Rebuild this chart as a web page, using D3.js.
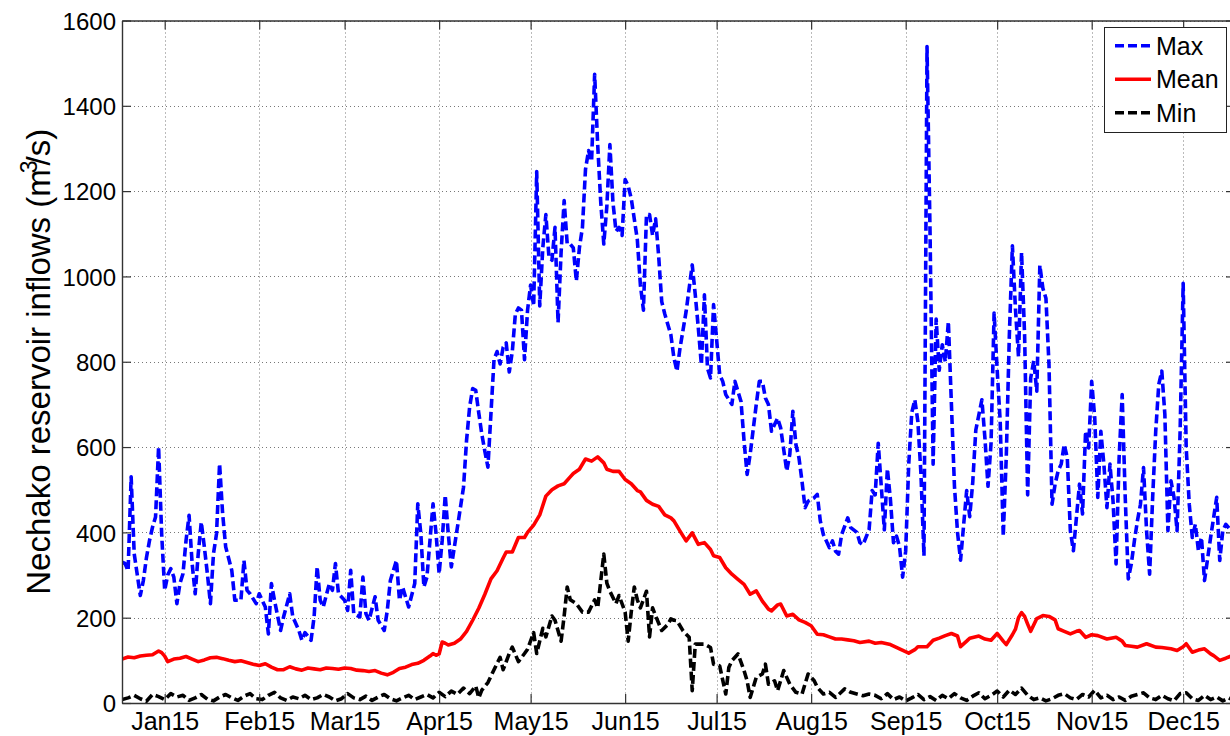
<!DOCTYPE html>
<html>
<head>
<meta charset="utf-8">
<script src="https://cdn.jsdelivr.net/npm/d3@7"></script>
<style>
  body { margin: 0; background: #ffffff; }
  svg { display: block; }
  text { font-family: "Liberation Sans", Arial, Helvetica, sans-serif; fill: #000; }
</style>
</head>
<body>
<svg id="chart" width="1230" height="736"></svg>
<script>
// Daily Nechako reservoir inflow envelope (m3/s), by day of year.
const maxDay = [1,2,3,4,5,7,8,9,10,11,12,13,14,15,16,17,18,19,20,21,22,23,24,25,26,27,28,29,30,31,32,33,34,35,37,38,40,41,42,43,45,46,48,49,50,51,53,54,56,57,59,60,61,63,64,65,66,67,69,70,71,72,74,75,76,77,79,80,81,82,84,85,87,88,89,91,92,93,95,97,98,99,100,101,103,104,105,106,107,108,109,110,111,113,114,115,116,117,118,119,120,121,122,123,124,125,126,127,128,129,130,131,132,133,134,135,136,137,138,139,140,141,142,143,144,145,146,147,148,149,150,151,152,153,154,155,156,157,158,159,160,161,162,163,164,165,166,167,168,170,171,172,173,174,175,176,177,178,179,181,182,183,184,186,188,189,190,191,192,193,194,195,197,198,199,201,202,204,205,206,207,209,210,211,212,213,214,216,217,219,220,221,222,223,224,225,226,228,229,230,231,233,234,235,236,237,239,240,242,243,244,246,247,248,249,250,251,252,253,254,255,256,257,258,259,260,261,262,263,264,265,266,267,268,269,270,271,272,273,274,275,276,278,279,280,281,283,284,285,286,287,288,289,290,291,292,293,294,295,296,297,298,299,300,301,302,303,304,305,306,307,308,309,310,311,312,313,314,315,316,317,318,319,320,321,322,323,324,325,326,327,328,329,330,331,332,333,334,335,336,337,338,339,340,341,342,343,344,345,346,347,348,349,350,351,352,353,354,355,356,358,359,360,361,362,363,364,365];
const maxFlow = [330,327,310,530,350,252,287,340,380,412,436,600,397,264,300,315,295,233,280,303,381,440,327,256,350,424,366,303,233,350,397,561,444,366,311,241,241,334,264,256,233,256,225,162,280,241,170,202,256,202,170,147,165,147,202,319,241,225,280,264,327,256,241,217,311,209,202,295,209,194,249,194,170,217,287,334,241,272,225,280,467,397,272,295,467,397,303,381,487,397,319,366,412,506,616,694,737,733,680,630,590,553,679,805,824,795,834,844,776,824,912,926,921,805,921,980,931,1246,931,1067,1145,1047,1038,1115,892,1057,1178,1076,1076,1067,989,1067,1115,1251,1295,1270,1474,1309,1174,1076,1164,1309,1174,1106,1115,1096,1227,1212,1183,1086,980,921,1145,1145,1096,1135,1047,941,912,863,809,778,832,918,1027,957,879,793,957,785,762,934,770,754,723,700,754,707,614,536,583,700,754,754,715,700,637,668,645,544,583,684,606,575,520,458,473,481,489,427,395,364,380,356,349,395,434,411,400,376,371,406,498,488,609,508,406,549,477,376,391,366,295,356,559,681,711,660,538,345,1539,1100,560,900,780,840,800,894,700,508,400,335,498,437,518,640,711,620,508,609,914,782,660,391,579,863,1072,924,812,1056,863,488,762,802,731,1026,972,949,793,466,513,544,560,606,575,404,357,435,513,443,637,598,754,669,482,637,560,458,560,474,326,575,723,482,291,326,380,427,466,552,404,302,482,637,747,778,676,404,521,482,404,637,984,598,466,388,419,357,388,287,388,435,482,334,404,419,410];

const meanDay = [1,3,5,7,9,11,13,14,15,16,18,20,22,24,26,28,30,32,34,36,38,40,42,44,46,48,50,52,54,56,58,60,62,64,66,68,70,72,74,76,78,80,82,84,86,88,90,92,94,96,98,100,102,103,104,105,106,107,108,110,112,114,116,118,120,122,124,126,127,129,131,133,134,136,138,140,142,144,146,148,149,151,153,155,157,158,159,160,162,164,166,168,170,171,173,175,177,179,181,182,184,186,188,190,192,194,195,197,199,201,203,205,207,209,211,213,214,216,217,219,221,223,225,227,229,231,233,235,237,239,241,243,246,248,250,253,256,259,261,262,265,267,269,271,273,275,276,278,279,282,284,286,288,290,291,293,294,295,296,297,298,299,301,303,305,307,308,310,312,314,315,317,319,321,324,327,329,330,332,334,337,340,342,345,347,349,350,352,354,356,358,359,361,363,365];
const meanFlow = [103,108,106,110,112,113,122,118,110,97,103,105,109,103,97,101,106,107,104,100,97,99,95,91,88,92,84,78,78,85,80,77,82,80,78,82,81,79,82,81,77,76,74,76,70,66,72,81,84,90,93,100,110,116,112,115,143,140,136,140,150,168,194,222,255,291,310,340,354,354,388,388,400,417,441,485,500,509,514,530,538,548,572,567,577,570,563,548,543,543,524,514,498,495,475,466,461,441,434,427,403,380,399,372,376,360,345,341,317,302,290,278,255,263,239,220,216,230,232,204,208,195,189,181,161,160,155,150,150,148,146,142,145,140,142,137,127,117,125,132,132,147,152,158,163,157,132,145,152,157,150,147,163,145,137,160,173,200,212,203,185,168,198,205,203,195,174,168,162,168,170,154,160,158,150,154,145,135,133,131,139,131,130,127,123,132,139,119,124,127,115,111,100,105,111];

const minDay = [1,3,5,7,9,11,13,15,17,19,21,23,25,27,29,31,33,35,37,39,41,43,45,47,49,51,53,55,57,59,61,63,65,67,69,71,73,75,77,79,81,83,85,87,89,91,93,95,97,99,101,103,105,107,109,111,113,115,117,118,119,121,123,125,126,128,129,131,133,134,136,137,139,140,142,143,145,146,147,148,150,152,154,156,157,159,160,161,163,164,166,167,168,169,170,171,173,174,175,176,178,180,181,182,183,185,187,188,189,192,194,195,197,199,200,201,203,205,206,207,209,211,212,213,215,216,218,220,222,224,226,228,229,231,233,235,238,240,242,244,246,248,250,252,254,256,258,260,262,264,266,268,270,272,274,276,278,280,282,284,286,288,290,292,294,296,298,300,302,304,306,308,310,312,314,316,318,320,322,324,326,328,330,332,334,336,338,340,342,344,346,348,350,352,354,356,358,360,362,364,365];
const minFlow = [8,12,18,10,4,20,15,8,22,14,18,6,12,20,9,5,14,20,12,6,16,22,10,8,18,25,12,6,14,10,18,8,12,20,14,5,10,22,12,8,16,6,14,20,10,5,12,18,8,14,20,12,25,15,28,20,35,22,40,12,30,48,78,107,78,116,131,97,116,126,165,116,175,155,204,194,145,204,272,242,233,213,213,242,223,349,281,262,233,252,213,145,213,272,242,223,262,155,223,204,170,184,197,194,193,169,154,29,138,138,130,91,87,21,83,99,115,76,52,13,60,68,91,44,52,29,76,44,25,21,68,52,37,21,25,13,33,25,21,17,21,18,10,22,8,14,5,12,20,8,15,6,18,10,22,12,6,16,24,10,18,28,14,30,20,35,18,8,12,5,10,18,22,12,8,20,14,30,12,18,8,14,6,16,20,24,12,8,18,10,5,22,24,10,6,18,8,14,5,12,8];

// Axis ticks: mid-month dates and flow levels
const monthTickDays = [15, 46, 74, 105, 135, 166, 196, 227, 258, 288, 319, 349];
const monthTickLabels = ["Jan15", "Feb15", "Mar15", "Apr15", "May15", "Jun15", "Jul15", "Aug15", "Sep15", "Oct15", "Nov15", "Dec15"];
const flowTicks = [0, 200, 400, 600, 800, 1000, 1200, 1400, 1600];

const seriesNames = ["Max", "Mean", "Min"];

const plot = { left: 122, right: 1235, top: 20.5, bottom: 703 };

const svg = d3.select("#chart");

const x = d3.scaleLinear().domain([1, 366]).range([plot.left, plot.right]);
const y = d3.scaleLinear().domain([0, 1600]).range([plot.bottom, plot.top]);

// Dotted grid
const grid = svg.append("g").attr("class", "grid")
  .attr("stroke", "#777").attr("stroke-width", 1).attr("stroke-dasharray", "1,3");
grid.selectAll("line.h").data(flowTicks.slice(1)).join("line").attr("class", "h")
  .attr("x1", plot.left).attr("x2", plot.right)
  .attr("y1", d => Math.round(y(d)) + 0.5).attr("y2", d => Math.round(y(d)) + 0.5);
grid.selectAll("line.v").data(monthTickDays).join("line").attr("class", "v")
  .attr("y1", plot.top).attr("y2", plot.bottom)
  .attr("x1", d => Math.round(x(d)) + 0.5).attr("x2", d => Math.round(x(d)) + 0.5);

// Data lines
svg.append("clipPath").attr("id", "plotClip").append("rect")
  .attr("x", plot.left).attr("y", plot.top)
  .attr("width", plot.right - plot.left).attr("height", plot.bottom - plot.top);

const line = d3.line().x(d => x(d[0])).y(d => y(d[1]));
const zip = (a, b) => a.map((d, i) => [d, b[i]]);

const seriesStyle = {
  Max:  { color: "#0000ff", dash: "9,4" },
  Mean: { color: "#ff0000", dash: null },
  Min:  { color: "#000000", dash: "9,4" }
};
const seriesData = {
  Max: zip(maxDay, maxFlow),
  Mean: zip(meanDay, meanFlow),
  Min: zip(minDay, minFlow)
};

const lines = svg.append("g").attr("clip-path", "url(#plotClip)");
["Min", "Mean", "Max"].forEach(name => {
  lines.append("path")
    .datum(seriesData[name])
    .attr("fill", "none")
    .attr("stroke", seriesStyle[name].color)
    .attr("stroke-width", 3.6)
    .attr("stroke-linejoin", "round")
    .attr("stroke-dasharray", seriesStyle[name].dash)
    .attr("d", line);
});

// Axes with inward ticks on all four sides
const axisColor = "#333";
function styleAxis(g) {
  g.select(".domain").attr("stroke", axisColor).attr("stroke-width", 1.4);
  g.selectAll(".tick line").attr("stroke", axisColor).attr("stroke-width", 1.2);
  g.selectAll("text").attr("font-size", 24).attr("fill", "#000")
    .attr("font-family", '"Liberation Sans", Arial, sans-serif');
}

svg.append("g")
  .attr("transform", `translate(${plot.left},0)`)
  .call(d3.axisLeft(y).tickValues(flowTicks).tickSizeInner(-9).tickSizeOuter(0).tickPadding(6).tickFormat(d3.format("d")))
  .call(styleAxis)
  .call(g => g.selectAll("text").attr("dy", "0.36em"));

svg.append("g")
  .attr("transform", `translate(${plot.right},0)`)
  .call(d3.axisRight(y).tickValues(flowTicks).tickSizeInner(-9).tickSizeOuter(0).tickFormat(""))
  .call(styleAxis);

svg.append("g")
  .attr("transform", `translate(0,${plot.bottom})`)
  .call(d3.axisBottom(x).tickValues(monthTickDays).tickSizeInner(-9).tickSizeOuter(0).tickPadding(9)
    .tickFormat((d, i) => monthTickLabels[i]))
  .call(styleAxis)
  .call(g => g.selectAll("text").attr("font-size", 25));

svg.append("g")
  .attr("transform", `translate(0,${plot.top})`)
  .call(d3.axisTop(x).tickValues(monthTickDays).tickSizeInner(-9).tickSizeOuter(0).tickFormat(""))
  .call(styleAxis);

// Y-axis title with superscript unit
const yTitle = svg.append("text")
  .attr("transform", `translate(50,${(plot.top + plot.bottom) / 2}) rotate(-90)`)
  .attr("text-anchor", "middle")
  .attr("font-size", 33);
yTitle.append("tspan").text("Nechako reservoir inflows (m");
yTitle.append("tspan").attr("dy", -13).attr("dx", -4).attr("font-size", 23).text("3");
yTitle.append("tspan").attr("dy", 13).attr("dx", -5).text("/s)");

// Legend
const legend = svg.append("g").attr("class", "legend");
legend.append("rect")
  .attr("x", 1104.5).attr("y", 27.5).attr("width", 122).attr("height", 105)
  .attr("fill", "#fff").attr("stroke", "#222").attr("stroke-width", 1);
const rowY = d3.scalePoint().domain(seriesNames).range([45.7, 112.7]);
seriesNames.forEach(name => {
  const g = legend.append("g").attr("transform", `translate(0,${rowY(name)})`);
  g.append("line")
    .attr("x1", 1115).attr("x2", 1151).attr("y1", 0).attr("y2", 0)
    .attr("stroke", seriesStyle[name].color).attr("stroke-width", 3.6)
    .attr("stroke-dasharray", seriesStyle[name].dash ? "9,4" : null);
  g.append("text").attr("x", 1156).attr("y", 9).attr("font-size", 25).text(name);
});
</script>
</body>
</html>
